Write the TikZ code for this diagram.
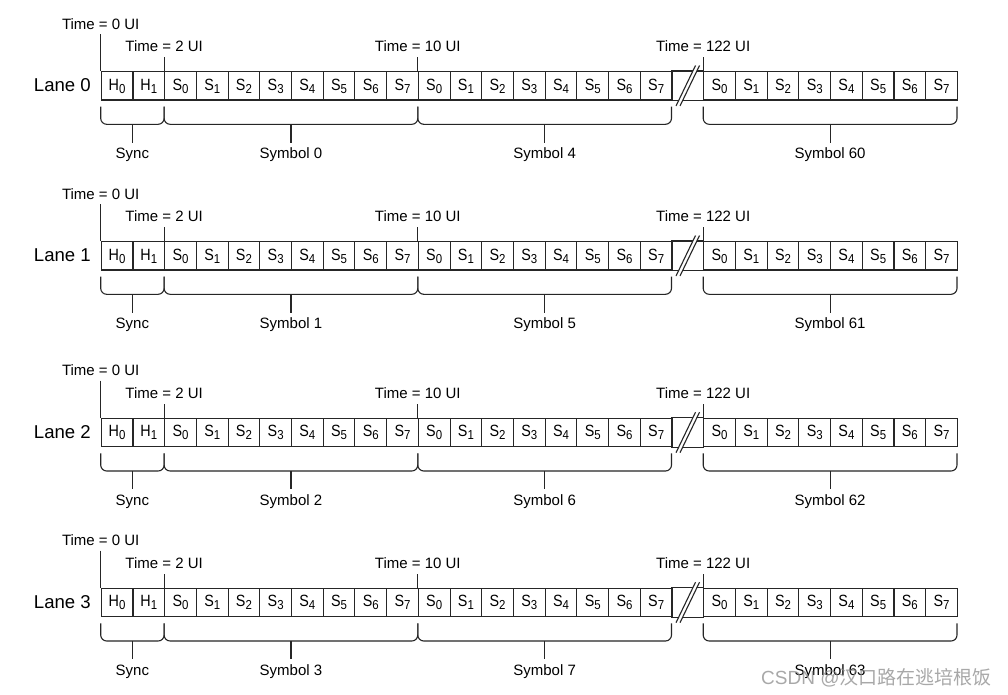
\documentclass[tikz,border=0pt]{standalone}
\usepackage{fontspec}
\usepackage{graphicx}
\setmainfont{Liberation Sans}
\newfontfamily\cjkfont{Noto Sans CJK SC}
\newcommand\cellsub[2]{\scalebox{0.88}[1]{#1\raisebox{-3pt}{\fontsize{13}{13}\selectfont #2}}}
\newcommand\lanebrace[5]{%
  \draw[ln, rounded corners=6pt] (#1,#3+35.7) -- (#1,#3+53.3) -- (#2,#3+53.3) -- (#2,#3+35.7);
  \draw[ln] ({(#1+#2)/2},#3+53.3) -- ({(#1+#2)/2},#3+71.7);
  \node[symlbl] (#5) at ({(#1+#2)/2},#3+87.7) {#4};}
\begin{document}
\begin{tikzpicture}[x=1pt,y=-1pt]
\tikzset{
  ln/.style={draw=black!85, line width=1.1pt},
  cellbox/.style={ln, minimum width=31.71pt, minimum height=28.4pt, inner sep=0pt,
    anchor=north west, text height=9pt, text depth=0pt, font=\fontsize{16.3}{16}\selectfont},
  timelbl/.style={anchor=base, inner sep=0pt, font=\fontsize{15}{15}\selectfont},
  lanelbl/.style={anchor=base east, inner sep=0pt, font=\fontsize{18.6}{19}\selectfont},
  symlbl/.style={anchor=base, inner sep=0pt, font=\fontsize{15}{15}\selectfont},
}
\useasboundingbox (0,0) rectangle (1008,694);
\fill[white] (0,0) rectangle (1008,694);
\foreach \L/\T in {0/71,1/241,2/417.7,3/587.7}{
  % cells
  \foreach \k in {0,...,26}{
    \ifnum\k=18
      \node[cellbox, draw=none] (c\L-\k) at ({100.7+31.71*\k},\T) {};
    \else
      \ifnum\k<2
        \def\ch{H}\pgfmathtruncatemacro\ix{\k}%
      \else
        \def\ch{S}%
        \ifnum\k<18
          \pgfmathtruncatemacro\ix{mod(\k-2,8)}%
        \else
          \pgfmathtruncatemacro\ix{mod(\k-3,8)}%
        \fi
      \fi
      \node[cellbox] (c\L-\k) at ({100.7+31.71*\k},\T) {\cellsub{\ch}{\ix}};
    \fi
  }
  % break cell
  \draw[ln] (c\L-18.north west) -- (c\L-18.north east)
            (c\L-18.south west) -- (c\L-18.south east);
  \fill[white] (676,\T+35) -- (695.5,\T-5.5) -- (699.5,\T-5.5) -- (680,\T+35) -- cycle;
  \draw[ln] (676,\T+35) -- (695.5,\T-5.5);
  \draw[ln] (680,\T+35) -- (699.5,\T-5.5);
  % lane label
  \node[lanelbl] (lane\L) at (91,\T+20.7) {Lane \L};
  % time ticks and labels
  \coordinate (tk\L-0) at (100.7,\T-37);
  \draw[ln] (tk\L-0) -- (c\L-0.north west);
  \node[timelbl] (tl\L-0) at (100.7,\T-42) {Time = 0 UI};
  \foreach \k/\tt in {2/2,10/10,19/122}{
    \coordinate (tk\L-\k) at ({100.7+31.71*\k},\T-13.7);
    \draw[ln] (tk\L-\k) -- (c\L-\k.north west);
    \node[timelbl] (tl\L-\k) at ({100.7+31.71*\k},\T-19.7) {Time = \tt\ UI};
  }
  % braces
  \pgfmathtruncatemacro\sa{\L+4}
  \pgfmathtruncatemacro\sb{\L+60}
  \lanebrace{100.7}{164.12}{\T}{Sync}{sync\L}
  \lanebrace{164.12}{417.8}{\T}{Symbol \L}{syma\L}
  \lanebrace{417.8}{671.48}{\T}{Symbol \sa}{symb\L}
  \lanebrace{703.19}{957.0}{\T}{Symbol \sb}{symc\L}
}
\node[anchor=base west, inner sep=0pt, text=black!45, opacity=0.75,
  font=\fontsize{19}{19}\selectfont] (wm) at (761,684) {CSDN @{\cjkfont 汉口路在逃培根饭}};
\end{tikzpicture}
\end{document}
